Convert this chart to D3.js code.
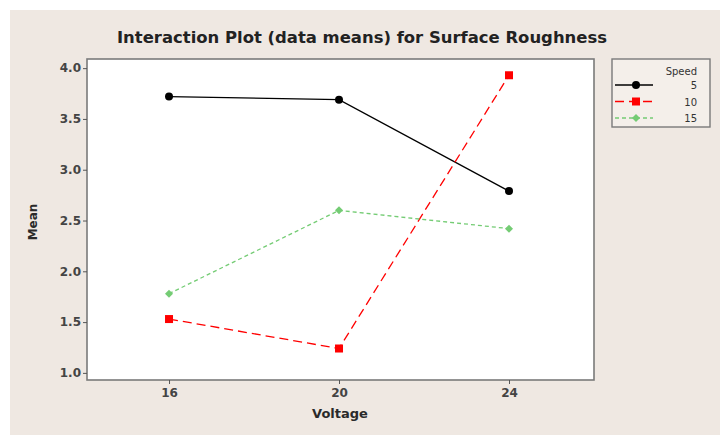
<!DOCTYPE html>
<html>
<head>
<meta charset="utf-8">
<script src="https://cdn.jsdelivr.net/npm/d3@7.9.0/dist/d3.min.js"></script>
<style>
  html, body { margin: 0; padding: 0; background: #fff; }
  svg text { font-family: "DejaVu Sans", sans-serif; }
</style>
</head>
<body>
<svg id="chart" width="720" height="435"></svg>
<script>
const voltages = [16, 20, 24];
const speeds = ['5', '10', '15'];
const speed5 = [3.72, 3.69, 2.79];
const speed10 = [1.53, 1.24, 3.93];
const speed15 = [1.78, 2.60, 2.42];
const yTicks = [1.0, 1.5, 2.0, 2.5, 3.0, 3.5, 4.0];

const series = [
  { name: speeds[0], values: speed5, color: '#000000', dash: null, shape: 'circle' },
  { name: speeds[1], values: speed10, color: '#ff0000', dash: '9,5', shape: 'square' },
  { name: speeds[2], values: speed15, color: '#74cc74', dash: '4,3', shape: 'diamond' }
];

const svg = d3.select('#chart');
const frame = { left: 87, right: 594, top: 59, bottom: 380 };

svg.append('rect')
  .attr('x', 10).attr('y', 10).attr('width', 710).attr('height', 425)
  .attr('fill', '#efe8e2');

const x = d3.scaleLinear().domain([14.07, 26]).range([frame.left, frame.right]);
const y = d3.scaleLinear().domain([0.93, 4.09]).range([frame.bottom, frame.top]);

svg.append('rect')
  .attr('x', frame.left).attr('y', frame.top)
  .attr('width', frame.right - frame.left).attr('height', frame.bottom - frame.top)
  .attr('fill', '#ffffff').attr('stroke', '#7a7a7a').attr('stroke-width', 1.6);

const xAxis = svg.append('g')
  .attr('transform', `translate(0,${frame.bottom})`)
  .call(d3.axisBottom(x).tickValues(voltages).tickSize(4).tickPadding(4));
const yAxis = svg.append('g')
  .attr('transform', `translate(${frame.left},0)`)
  .call(d3.axisLeft(y).tickValues(yTicks).tickFormat(d3.format('.1f')).tickSize(4).tickPadding(2));

[xAxis, yAxis].forEach(ax => {
  ax.select('.domain').remove();
  ax.selectAll('.tick line').attr('stroke', '#555');
  ax.selectAll('.tick text')
    .attr('fill', '#444')
    .style('font-size', '12px')
    .style('font-weight', 'bold');
});

svg.append('text')
  .attr('x', 362).attr('y', 43)
  .attr('text-anchor', 'middle')
  .attr('textLength', 490).attr('lengthAdjust', 'spacingAndGlyphs')
  .style('font-size', '16px').style('font-weight', 'bold')
  .attr('fill', '#222')
  .text('Interaction Plot (data means) for Surface Roughness');

svg.append('text')
  .attr('x', 340).attr('y', 418)
  .attr('text-anchor', 'middle')
  .style('font-size', '13px').style('font-weight', 'bold')
  .attr('fill', '#2a2a2a')
  .text('Voltage');

svg.append('text')
  .attr('transform', 'translate(37,222) rotate(-90)')
  .attr('text-anchor', 'middle')
  .style('font-size', '12px').style('font-weight', 'bold')
  .attr('fill', '#2a2a2a')
  .text('Mean');

const line = d3.line().x(d => x(d.v)).y(d => y(d.m));

function marker(g, shape, color, cx, cy) {
  if (shape === 'circle') {
    g.append('circle').attr('cx', cx).attr('cy', cy).attr('r', 4).attr('fill', color);
  } else if (shape === 'square') {
    g.append('rect').attr('x', cx - 4).attr('y', cy - 4).attr('width', 8).attr('height', 8).attr('fill', color);
  } else {
    g.append('path')
      .attr('d', `M${cx},${cy - 4}L${cx + 4},${cy}L${cx},${cy + 4}L${cx - 4},${cy}Z`)
      .attr('fill', color);
  }
}

series.forEach(s => {
  const pts = voltages.map((v, i) => ({ v, m: s.values[i] }));
  svg.append('path')
    .datum(pts)
    .attr('d', line)
    .attr('fill', 'none')
    .attr('stroke', s.color)
    .attr('stroke-width', 1.3)
    .attr('stroke-dasharray', s.dash);
  const g = svg.append('g');
  pts.forEach(p => marker(g, s.shape, s.color, x(p.v), y(p.m)));
});

// legend
const leg = svg.append('g');
leg.append('rect')
  .attr('x', 612).attr('y', 59).attr('width', 98).attr('height', 68)
  .attr('fill', '#f4efea').attr('stroke', '#7a7a7a').attr('stroke-width', 1.4);
leg.append('text')
  .attr('x', 697).attr('y', 75)
  .attr('text-anchor', 'end')
  .style('font-size', '10px')
  .attr('fill', '#333')
  .text('Speed');
series.forEach((s, i) => {
  const ly = 85 + i * 16.5;
  leg.append('line')
    .attr('x1', 615).attr('x2', 653).attr('y1', ly).attr('y2', ly)
    .attr('stroke', s.color).attr('stroke-width', 1.3)
    .attr('stroke-dasharray', s.dash);
  marker(leg, s.shape, s.color, 636, ly);
  leg.append('text')
    .attr('x', 697).attr('y', ly + 4)
    .attr('text-anchor', 'end')
    .style('font-size', '10px')
    .attr('fill', '#333')
    .text(s.name);
});
</script>
</body>
</html>
